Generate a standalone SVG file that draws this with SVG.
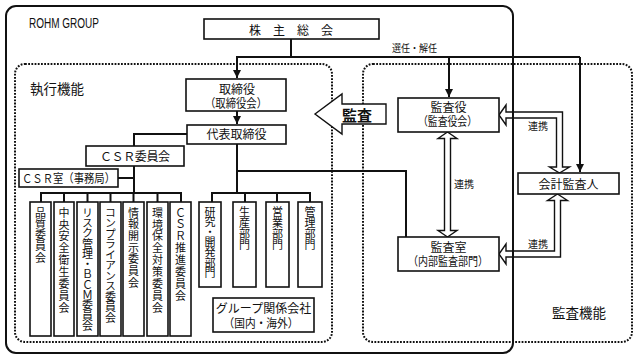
<svg xmlns="http://www.w3.org/2000/svg" width="637" height="362" viewBox="0 0 637 362">
<defs>
<style>
text{font-family:"Noto Sans CJK JP","Liberation Sans",sans-serif;fill:#111;}
.t12{font-size:12px;text-anchor:middle;}
.two{font-family:"Liberation Sans","Noto Sans CJK JP",sans-serif;}
.t10{font-size:10px;text-anchor:middle;}
.v{font-size:11px;writing-mode:vertical-rl;text-anchor:start;}
.lbl{font-size:13.5px;}
.box{fill:#fff;stroke:#111;stroke-width:1.6;}
.dot{fill:none;stroke:#111;stroke-width:2;stroke-dasharray:1.8 1.4;}
.con{fill:none;stroke:#111;stroke-width:2;}
.hol{fill:#fff;stroke:#111;stroke-width:1.4;stroke-linejoin:miter;}
</style>
<marker id="ah" viewBox="0 0 10 10" refX="10" refY="5" markerWidth="4" markerHeight="4" orient="auto">
<path d="M0,0 L10,5 L0,10 Z" fill="#111"/>
</marker>
</defs>
<rect width="637" height="362" fill="#fff"/>

<g id="exec-area">
<rect class="dot" x="15" y="64" width="317" height="278" rx="10"/>
<text class="lbl" x="30" y="94">執行機能</text>
</g>
<g id="audit-area">
<rect class="dot" x="363" y="64" width="269" height="278" rx="10"/>
<text class="lbl" x="552" y="318">監査機能</text>
</g>

<g id="audit-arrow">
<path class="hol" d="M315,114 L342,94 L342,104 L386,104 L386,124 L342,124 L342,134 Z"/>
<text x="357" y="120.5" style="font-size:15px;font-weight:bold;text-anchor:middle;">監査</text>
</g>

<g id="links">
<path class="hol" d="M447.5,132 L457,138.5 L450.5,138.5 L450.5,230.5 L457,230.5 L447.5,237 L438,230.5 L444.5,230.5 L444.5,138.5 L438,138.5 Z"/>
<path class="hol" d="M499,115 L506,105 L506,112 L562.5,112 L562.5,167 L569.5,167 L559.5,173 L549.5,167 L556.5,167 L556.5,118 L506,118 L506,125 Z"/>
<path class="hol" d="M557.5,194 L567.5,200.5 L560.5,200.5 L560.5,257 L506,257 L506,264 L499,254 L506,244 L506,251 L554.5,251 L554.5,200.5 L547.5,200.5 Z"/>
<text class="t10" x="538" y="130">連携</text>
<text class="t10" x="464" y="188">連携</text>
<text class="t10" x="538" y="248">連携</text>
</g>

<g id="rohm-group">
<rect x="6" y="6" width="507" height="347" rx="10" fill="none" stroke="#111" stroke-width="2"/>
<text x="29" y="27.5" style="font-family:'Liberation Sans',sans-serif;font-size:14px;" textLength="70" lengthAdjust="spacingAndGlyphs">ROHM GROUP</text>
</g>

<g id="connectors">
<path class="con" d="M291,39 V57"/>
<path class="con" d="M236,57 H580"/>
<path class="con" d="M237,57 V78" marker-end="url(#ah)"/>
<path class="con" d="M449,57 V97" marker-end="url(#ah)"/>
<path class="con" d="M580,57 V172" marker-end="url(#ah)"/>
<path class="con" d="M237,111 V124" marker-end="url(#ah)"/>
<path class="con" d="M187,134 H134 V146"/>
<path class="con" d="M134,166 V193"/>
<path class="con" d="M118,178 H134"/>
<path class="con" d="M41,202 V193 H181 V202"/>
<path class="con" d="M64,193 V202 M87.5,193 V202 M110.5,193 V202 M133.5,193 V202 M157.5,193 V202"/>
<path class="con" d="M237,144 V193"/>
<path class="con" d="M237,171 H406 V237"/>
<text class="t10" x="414.5" y="52" textLength="45" lengthAdjust="spacingAndGlyphs">選任・解任</text>
<path class="con" d="M212,202 V193 H310 V202"/>
<path class="con" d="M245,193 V202 M277,193 V202"/>
</g>

<g id="shareholders">
<rect class="box" x="204" y="19" width="175" height="20"/>
<text class="t12" x="291" y="35">株　主　総　会</text>
</g>
<g id="board">
<rect class="box" x="186" y="79" width="100" height="32"/>
<text class="t12 two"><tspan x="237" y="93.5">取締役</tspan><tspan x="236" y="107.5" textLength="62" lengthAdjust="spacingAndGlyphs">（取締役会）</tspan></text>
</g>
<g id="president">
<rect class="box" x="187" y="125" width="99" height="19"/>
<text class="t12" x="236.5" y="138.5">代表取締役</text>
</g>
<g id="csr-committee">
<rect class="box" x="86" y="146" width="98" height="20"/>
<text class="t12" x="135" y="161" textLength="70" lengthAdjust="spacing">ＣＳＲ委員会</text>
</g>
<g id="csr-office">
<rect class="box" x="19" y="169" width="99" height="18"/>
<text class="t12" x="68.5" y="183" textLength="93" lengthAdjust="spacingAndGlyphs">ＣＳＲ室（事務局）</text>
</g>

<g id="c1"><rect class="box" x="30" y="202" width="21" height="134"/>
<text class="v" x="40.5" y="207" style="letter-spacing:0.25px">品質委員会</text></g>
<g id="c2"><rect class="box" x="54" y="202" width="20" height="134"/>
<text class="v" x="64" y="207" style="letter-spacing:0.9px">中央安全衛生委員会</text></g>
<g id="c3"><rect class="box" x="77" y="202" width="21" height="134"/>
<text class="v" x="87.5" y="207" style="letter-spacing:-0.7px">リスク管理・ＢＣＭ委員会</text></g>
<g id="c4"><rect class="box" x="100" y="202" width="21" height="134"/>
<text class="v" x="110.5" y="207" style="letter-spacing:-0.5px">コンプライアンス委員会</text></g>
<g id="c5"><rect class="box" x="123" y="202" width="21" height="134"/>
<text class="v" x="133.5" y="207" style="letter-spacing:0.7px">情報開示委員会</text></g>
<g id="c6"><rect class="box" x="147" y="202" width="21" height="134"/>
<text class="v" x="157.5" y="207" style="letter-spacing:0.9px">環境保全対策委員会</text></g>
<g id="c7"><rect class="box" x="170" y="202" width="21" height="134"/>
<text class="v" x="180.5" y="207" style="letter-spacing:0.9px">ＣＳＲ推進委員会</text></g>

<g id="d1"><rect class="box" x="199" y="202" width="22" height="85"/>
<text class="v" x="210" y="206" style="letter-spacing:-0.8px">研究・開発部門</text></g>
<g id="d2"><rect class="box" x="233" y="202" width="23" height="85"/>
<text class="v" x="244.5" y="206">生産部門</text></g>
<g id="d3"><rect class="box" x="266" y="202" width="23" height="85"/>
<text class="v" x="277.5" y="206">営業部門</text></g>
<g id="d4"><rect class="box" x="298" y="202" width="24" height="85"/>
<text class="v" x="310" y="206">管理部門</text></g>

<g id="group-companies">
<rect class="box" x="213" y="298" width="101" height="34"/>
<text class="t12 two"><tspan x="263.5" y="313">グループ関係会社</tspan><tspan x="261" y="328" textLength="75" lengthAdjust="spacingAndGlyphs">（国内・海外）</tspan></text>
</g>

<g id="auditors">
<rect class="box" x="398" y="98" width="101" height="34"/>
<text class="t12 two"><tspan x="448.5" y="111.5">監査役</tspan><tspan x="447.5" y="126" textLength="59" lengthAdjust="spacingAndGlyphs">（監査役会）</tspan></text>
</g>
<g id="internal-audit">
<rect class="box" x="398" y="237" width="101" height="34"/>
<text class="t12 two"><tspan x="448.5" y="251.5">監査室</tspan><tspan x="448" y="266" textLength="80" lengthAdjust="spacingAndGlyphs">（内部監査部門）</tspan></text>
</g>
<g id="accounting-auditor">
<rect class="box" x="518" y="173" width="101" height="21"/>
<text class="t12" x="568.5" y="188.5">会計監査人</text>
</g>
</svg>
